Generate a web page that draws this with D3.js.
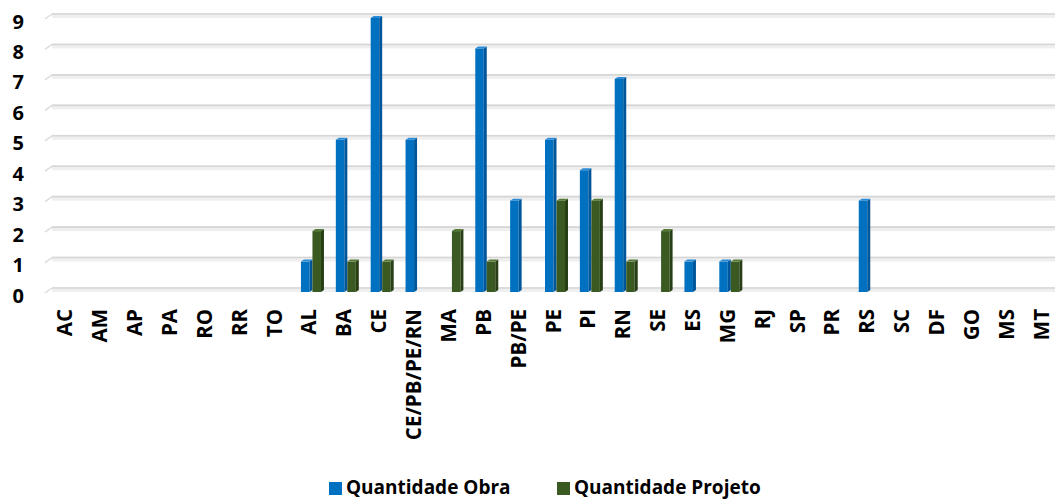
<!DOCTYPE html>
<html>
<head>
<meta charset="utf-8">
<script src="https://cdn.jsdelivr.net/npm/d3@7"></script>
<style>
  body { margin: 0; background: #fff; }
  svg text { font-family: "Open Sans", "DejaVu Sans", sans-serif; font-weight: bold; fill: #000; }
</style>
</head>
<body>
<svg id="chart" width="1055" height="499"></svg>
<script>
// data
const categories = ["AC", "AM", "AP", "PA", "RO", "RR", "TO", "AL", "BA", "CE",
  "CE/PB/PE/RN", "MA", "PB", "PB/PE", "PE", "PI", "RN", "SE", "ES", "MG",
  "RJ", "SP", "PR", "RS", "SC", "DF", "GO", "MS", "MT"];
const obra = [0, 0, 0, 0, 0, 0, 0, 1, 5, 9, 5, 0, 8, 3, 5, 4, 7, 0, 1, 1, 0, 0, 0, 3, 0, 0, 0, 0, 0];
const projeto = [0, 0, 0, 0, 0, 0, 0, 2, 1, 1, 0, 2, 1, 0, 3, 3, 1, 2, 0, 1, 0, 0, 0, 0, 0, 0, 0, 0, 0];
const seriesNames = ["Quantidade Obra", "Quantidade Projeto"];
const yTicks = [0, 1, 2, 3, 4, 5, 6, 7, 8, 9];

const colors = {
  "Quantidade Obra": { front: "#0070c0", side: "#00569a", top: "#2a8ad6" },
  "Quantidade Projeto": { front: "#3a5a22", side: "#283f16", top: "#557a36" },
};

const svg = d3.select("#chart");

const x = d3.scaleBand()
  .domain(categories)
  .range([51, 1062])
  .padding(0);

const y = d3.scaleLinear()
  .domain([0, 9])
  .range([292, 18]);

const groupWidth = 23;
const x1 = d3.scaleBand()
  .domain(seriesNames)
  .range([0, groupWidth])
  .padding(0);

// gridlines (drawn on the back wall, a bit above the bar scale)
const grid = svg.append("g");
yTicks.forEach((v) => {
  const gy = y(v) - 4;
  grid.append("rect")
    .attr("x", 52).attr("y", gy - 1)
    .attr("width", 1003).attr("height", 5)
    .attr("fill", "#efefef");
  grid.append("line")
    .attr("x1", 52).attr("x2", 1055)
    .attr("y1", gy).attr("y2", gy)
    .attr("stroke", "#d6d6d6").attr("stroke-width", 1.6);
  // small 3D stub at the left end
  grid.append("line")
    .attr("x1", 45).attr("y1", gy + 5)
    .attr("x2", 52).attr("y2", gy)
    .attr("stroke", "#dcdcdc").attr("stroke-width", 1.5);
});

// y axis labels
svg.append("g")
  .selectAll("text")
  .data(yTicks)
  .join("text")
  .attr("x", 24)
  .attr("y", (d) => y(d) + 3)
  .attr("text-anchor", "end")
  .attr("dominant-baseline", "central")
  .attr("font-size", 20)
  .text((d) => d);

// bars
const rows = categories.map((c, i) => ({ cat: c, values: [obra[i], projeto[i]] }));
const groups = svg.append("g")
  .selectAll("g")
  .data(rows)
  .join("g")
  .attr("transform", (d) => `translate(${x(d.cat) + x.bandwidth() / 2 - groupWidth / 2},0)`);

const side = 3;
groups.selectAll("g")
  .data((d) => d.values.map((v, k) => ({ key: seriesNames[k], value: v })).filter((b) => b.value > 0))
  .join("g")
  .each(function (b) {
    const g = d3.select(this);
    const bx = x1(b.key);
    const w = x1.bandwidth();
    const top = y(b.value);
    const c = colors[b.key];
    // front face
    g.append("rect")
      .attr("x", bx).attr("y", top)
      .attr("width", w - side).attr("height", y(0) - top)
      .attr("fill", c.front);
    // side face
    g.append("path")
      .attr("d", `M${bx + w - side},${top} L${bx + w},${top - 2} L${bx + w},${y(0) - 2} L${bx + w - side},${y(0)} Z`)
      .attr("fill", c.side);
    // top face
    g.append("path")
      .attr("d", `M${bx},${top} L${bx + side},${top - 2} L${bx + w},${top - 2} L${bx + w - side},${top} Z`)
      .attr("fill", c.top);
  });

// x axis labels (rotated)
svg.append("g")
  .selectAll("text")
  .data(categories)
  .join("text")
  .attr("transform", (d) => `translate(${x(d) + x.bandwidth() / 2 - 4},309) rotate(-90)`)
  .attr("text-anchor", "end")
  .attr("dominant-baseline", "central")
  .attr("font-size", 20.5)
  .text((d) => d);

// legend
const legendItems = [
  { name: seriesNames[0], x: 329 },
  { name: seriesNames[1], x: 557 },
];
const legend = svg.append("g");
legendItems.forEach((it) => {
  legend.append("rect")
    .attr("x", it.x).attr("y", 482)
    .attr("width", 13).attr("height", 13)
    .attr("fill", colors[it.name].front);
  legend.append("text")
    .attr("x", it.x + 17).attr("y", 487)
    .attr("dominant-baseline", "central")
    .attr("font-size", 19)
    .text(it.name);
});
</script>
</body>
</html>
